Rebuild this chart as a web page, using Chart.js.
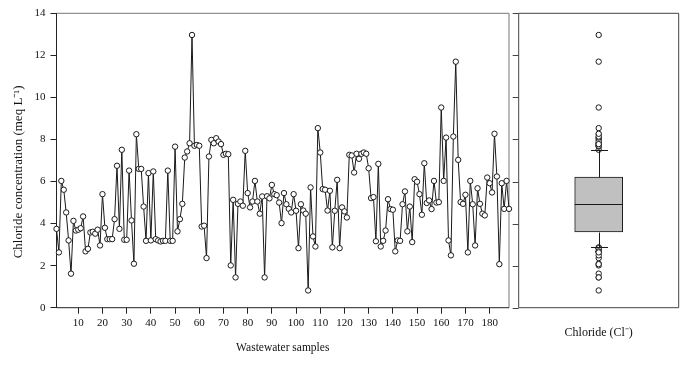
<!DOCTYPE html>
<html lang="en">
<head>
  <meta charset="UTF-8">
  <title>Chloride in wastewater samples</title>
  <script src="https://cdn.jsdelivr.net/npm/chart.js"></script>
  <style>
    html, body { margin: 0; padding: 0; background: #fff; }
    #wrap { position: relative; width: 686px; height: 372px; }
    #lineBox { position: absolute; left: 0; top: 0; width: 514px; height: 372px; }
    #boxBox { position: absolute; left: 512px; top: 0; width: 174px; height: 372px; }
  </style>
</head>
<body>
  <div id="wrap">
    <div id="lineBox"><canvas id="lineChart"></canvas></div>
    <div id="boxBox"><canvas id="boxChart"></canvas></div>
  </div>
  <script>
    // chloride per sample (meq/L), samples 1..188
    const chloride = [
      3.75, 2.63, 6.03, 5.61, 4.53, 3.20, 1.62, 4.13, 3.67, 3.71,
      3.78, 4.34, 2.68, 2.80, 3.58, 3.61, 3.52, 3.71, 2.96, 5.40,
      3.80, 3.26, 3.26, 3.26, 4.21, 6.75, 3.75, 7.51, 3.23, 3.23,
      6.52, 4.15, 2.09, 8.25, 6.60, 6.60, 4.81, 3.18, 6.40, 3.20,
      6.48, 3.26, 3.20, 3.15, 3.18, 3.18, 6.52, 3.18, 3.18, 7.66,
      3.63, 4.21, 4.94, 7.14, 7.43, 7.82, 12.97, 7.70, 7.74, 7.70,
      3.86, 3.90, 2.36, 7.19, 7.98, 7.82, 8.06, 7.90, 7.78, 7.27,
      7.32, 7.30, 2.01, 5.13, 1.44, 4.94, 5.05, 4.85, 7.46, 5.45,
      4.77, 5.05, 6.03, 5.05, 4.47, 5.29, 1.44, 5.30, 5.20, 5.84,
      5.40, 5.35, 5.00, 4.02, 5.45, 4.92, 4.70, 4.53, 5.40, 4.61,
      2.83, 4.92, 4.62, 4.47, 0.82, 5.72, 3.39, 2.91, 8.54, 7.38,
      5.64, 5.61, 4.62, 5.56, 2.87, 4.61, 6.08, 2.83, 4.77, 4.58,
      4.29, 7.27, 7.24, 6.43, 7.32, 7.08, 7.32, 7.38, 7.32, 6.63,
      5.21, 5.26, 3.16, 6.84, 2.91, 3.18, 3.67, 5.16, 4.69, 4.66,
      2.68, 3.20, 3.18, 4.92, 5.53, 3.63, 4.81, 3.12, 6.11, 5.99,
      5.40, 4.42, 6.87, 4.98, 5.10, 4.69, 6.03, 5.00, 5.02, 9.52,
      6.03, 8.09, 3.20, 2.49, 8.14, 11.70, 7.03, 5.02, 4.94, 5.37,
      2.63, 6.03, 4.92, 2.96, 5.68, 4.94, 4.47, 4.39, 6.19, 5.92,
      5.48, 8.27, 6.24, 2.07, 5.92, 4.70, 6.03, 4.70
    ];
    const samples = chloride.map((v, i) => i + 1);

    const xTicks = [10, 20, 30, 40, 50, 60, 70, 80, 90, 100, 110, 120, 130, 140, 150, 160, 170, 180];
    const yTicks = [0, 2, 4, 6, 8, 10, 12, 14];

    // box plot: lower whisker, Q1, median, Q3, upper whisker
    const boxLabel = 'Chloride (Cl⁻)';
    const boxStats = [2.91, 3.60, 4.93, 6.21, 7.49];
    const outliers = chloride.filter(v => v < boxStats[0] || v > boxStats[4]);

    const serif = 'Liberation Serif';
    const ink = '#111';
    // trailing nbsp's push the rotated title a bit lower, as in the original
    const yTitle = 'Chloride concentration (meq L⁻¹)' + '\u00a0'.repeat(7);

    // box frame around the plot area
    const frame = {
      id: 'frame',
      beforeDatasetsDraw(chart, args, opts) {
        const { ctx, chartArea: a } = chart;
        ctx.save();
        ctx.lineWidth = 1;
        ctx.strokeStyle = opts.side || '#777';
        ctx.beginPath();
        ctx.moveTo(a.left, a.top); ctx.lineTo(a.right, a.top); ctx.lineTo(a.right, a.bottom);
        ctx.stroke();
        ctx.strokeStyle = opts.axis || '#222';
        ctx.beginPath();
        ctx.moveTo(a.left, a.top); ctx.lineTo(a.left, a.bottom); ctx.lineTo(a.right, a.bottom);
        ctx.stroke();
        if (opts.leftTicks) {
          const y = chart.scales.y;
          ctx.beginPath();
          yTicks.forEach(v => {
            const py = Math.round(y.getPixelForValue(v)) + 0.5;
            ctx.moveTo(a.left - opts.leftTicks, py); ctx.lineTo(a.left, py);
          });
          ctx.stroke();
        }
        ctx.restore();
      }
    };

    // whiskers, caps and median for the box
    const whiskers = {
      id: 'whiskers',
      afterDatasetDraw(chart, args) {
        if (args.index !== 0) return;
        const { ctx } = chart;
        const y = chart.scales.y;
        const bar = chart.getDatasetMeta(0).data[0];
        const cx = Math.round(bar.x) + 0.5;
        const half = bar.width / 2;
        const cap = 8.5;
        const py = v => Math.round(y.getPixelForValue(v)) + 0.5;
        ctx.save();
        ctx.strokeStyle = '#1a1a1a';
        ctx.lineWidth = 1;
        ctx.beginPath();
        ctx.moveTo(cx, py(boxStats[3])); ctx.lineTo(cx, py(boxStats[4]));
        ctx.moveTo(cx - cap, py(boxStats[4])); ctx.lineTo(cx + cap, py(boxStats[4]));
        ctx.moveTo(cx, py(boxStats[1])); ctx.lineTo(cx, py(boxStats[0]));
        ctx.moveTo(cx - cap, py(boxStats[0])); ctx.lineTo(cx + cap, py(boxStats[0]));
        ctx.moveTo(bar.x - half, py(boxStats[2])); ctx.lineTo(bar.x + half, py(boxStats[2]));
        ctx.stroke();
        ctx.restore();
      }
    };

    new Chart(document.getElementById('lineChart'), {
      type: 'line',
      data: {
        datasets: [{
          data: samples.map((s, i) => ({ x: s, y: chloride[i] })),
          borderColor: '#1a1a1a',
          borderWidth: 1,
          pointRadius: 2.7,
          pointBorderWidth: 1,
          pointBorderColor: '#1a1a1a',
          pointBackgroundColor: '#fff',
          tension: 0,
          clip: false
        }]
      },
      options: {
        responsive: true,
        maintainAspectRatio: false,
        animation: false,
        layout: { padding: { left: 0, right: 2.3, top: 13.3, bottom: 0 } },
        plugins: {
          legend: { display: false },
          tooltip: { enabled: false },
          frame: { side: '#777', axis: '#222' }
        },
        scales: {
          x: {
            type: 'linear',
            min: 1,
            max: 188,
            afterBuildTicks: s => { s.ticks = xTicks.map(v => ({ value: v })); },
            afterFit: s => { s.height = 64.3; },
            border: { display: false },
            grid: { drawOnChartArea: false, drawTicks: true, tickLength: 6, color: '#222' },
            ticks: { color: ink, font: { family: serif, size: 11 }, padding: 3, maxRotation: 0, autoSkip: false },
            title: {
              display: true, text: 'Wastewater samples', color: ink,
              font: { family: serif, size: 11.5 }, padding: { top: 0, bottom: 17 }
            }
          },
          y: {
            min: 0,
            max: 14,
            afterBuildTicks: s => { s.ticks = yTicks.map(v => ({ value: v })); },
            afterFit: s => { s.width = 56.5; },
            border: { display: false },
            grid: { drawOnChartArea: false, drawTicks: true, tickLength: 6, color: '#222' },
            ticks: { color: ink, font: { family: serif, size: 11 }, padding: 5 },
            title: {
              display: true, text: yTitle, color: ink,
              font: { family: serif, size: 13 }, padding: { top: 11, bottom: 0 }
            }
          }
        }
      },
      plugins: [frame]
    });

    new Chart(document.getElementById('boxChart'), {
      type: 'bar',
      data: {
        labels: [boxLabel],
        datasets: [
          {
            type: 'bar',
            data: [[boxStats[1], boxStats[3]]],
            backgroundColor: '#c0c0c0',
            borderColor: '#1a1a1a',
            borderWidth: 1,
            borderSkipped: false,
            barThickness: 48
          },
          {
            type: 'line',
            data: outliers.map(v => ({ x: boxLabel, y: v })),
            showLine: false,
            pointRadius: 2.7,
            pointBorderWidth: 1,
            pointBorderColor: '#1a1a1a',
            pointBackgroundColor: '#fff',
            clip: false
          }
        ]
      },
      options: {
        responsive: true,
        maintainAspectRatio: false,
        animation: false,
        layout: { padding: { left: 6.7, right: 7.3, top: 13.3, bottom: 0 } },
        plugins: {
          legend: { display: false },
          tooltip: { enabled: false },
          frame: { side: '#444', axis: '#444', leftTicks: 6 }
        },
        scales: {
          x: {
            afterFit: s => { s.height = 64.3; },
            border: { display: false },
            grid: { display: false },
            ticks: { display: false },
            title: {
              display: true, text: boxLabel, color: ink,
              font: { family: serif, size: 12 }, padding: { top: 0, bottom: 32 }
            }
          },
          y: { display: false, min: 0, max: 14 }
        }
      },
      plugins: [frame, whiskers]
    });
  </script>
</body>
</html>
